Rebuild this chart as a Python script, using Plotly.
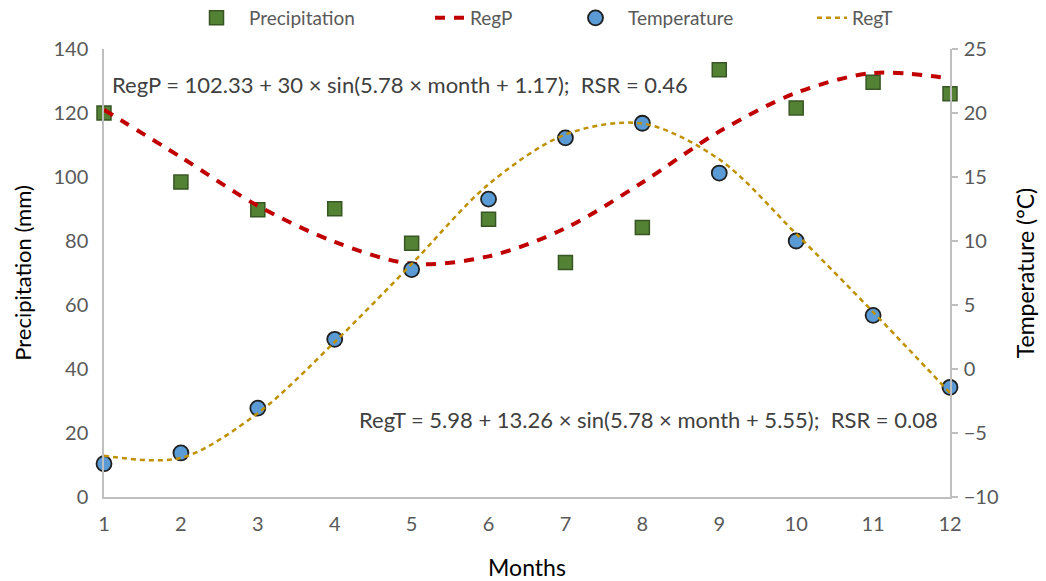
import plotly.graph_objects as go

months = [1, 2, 3, 4, 5, 6, 7, 8, 9, 10, 11, 12]
precip = [120.0, 98.4, 89.8, 90.1, 79.3, 86.8, 73.3, 84.2, 133.5, 121.6, 129.6, 126.0]
temp = [-7.4, -6.56, -3.06, 2.32, 7.77, 13.27, 18.06, 19.2, 15.31, 10.0, 4.19, -1.43]
reg_p = [121.0, 106.2, 91.0, 79.7, 72.9, 75.2, 84.0, 98.3, 114.2, 126.3, 132.5, 130.8]
reg_t = [-6.77, -6.95, -3.45, 2.11, 8.2, 14.43, 18.32, 19.18, 16.38, 10.56, 4.45, -1.87]

left_ticks = [0, 20, 40, 60, 80, 100, 120, 140]
right_ticks = [-10, -5, 0, 5, 10, 15, 20, 25]

eq_p = "RegP = 102.33 + 30 × sin(5.78 × month + 1.17);  RSR = 0.46"
eq_t = "RegT = 5.98 + 13.26 × sin(5.78 × month + 5.55);  RSR = 0.08"

FONT = "Lato, Roboto, sans-serif"
GREY = "#595959"
AX = "#bfbfbf"

# plot area on screen: x 104..950, y 49..497 (body margin removed below)
L, T = 104, 49
PW, PH = 846, 448

fig = go.Figure()
fig.add_trace(go.Scatter(
    x=months, y=precip, mode="markers", name="Precipitation", legend="legend", cliponaxis=False,
    marker=dict(symbol="square", size=14, color="#548235", line=dict(color="#375623", width=1.5))))
fig.add_trace(go.Scatter(
    x=months, y=reg_p, mode="lines", name="RegP", legend="legend2",
    line=dict(color="#C00000", width=4, dash="10px,9px", shape="spline", smoothing=0.9)))
fig.add_trace(go.Scatter(
    x=months, y=temp, mode="markers", name="Temperature", yaxis="y2", legend="legend3", cliponaxis=False,
    marker=dict(symbol="circle", size=15, color="#5B9BD5", line=dict(color="#1f1f1f", width=1.8))))
fig.add_trace(go.Scatter(
    x=months, y=reg_t, mode="lines", name="RegT", yaxis="y2", legend="legend4",
    line=dict(color="#BF9000", width=2.5, dash="5px,4px", shape="spline", smoothing=0.9)))

def leg(xpix, itemwidth=30):
    return dict(orientation="h", x=(xpix - L) / PW, y=(T - 18) / PH + 1, xanchor="left", yanchor="middle",
                font=dict(family=FONT, size=19, color=GREY), bgcolor="rgba(0,0,0,0)",
                borderwidth=0, itemwidth=itemwidth)

fig.update_layout(
    width=1046, height=581,
    margin=dict(l=L, r=1046 - L - PW, t=T, b=581 - T - PH, autoexpand=False),
    paper_bgcolor="white", plot_bgcolor="white",
    font=dict(family=FONT, color=GREY),
    showlegend=True,
    xaxis=dict(range=[1, 12], tickvals=months, showgrid=False, zeroline=False, automargin=False,
               showline=True, linecolor=AX, linewidth=1.5, ticks="", ticklabelstandoff=8,
               tickfont=dict(size=20, color=GREY),
               title=dict(text="Months", font=dict(size=23, color="#000000"), standoff=26)),
    yaxis=dict(range=[0, 140], tickvals=left_ticks, showgrid=False, zeroline=False, automargin=False,
               showline=True, linecolor=AX, linewidth=1.5, ticks="", ticklabelstandoff=10,
               tickfont=dict(size=20, color=GREY),
               title=dict(text="Precipitation (mm)", font=dict(size=22, color="#000000"), standoff=16)),
    yaxis2=dict(range=[-10, 25], tickvals=right_ticks, overlaying="y", side="right", automargin=False,
                showgrid=False, zeroline=False, showline=True, linecolor=AX, linewidth=1.5,
                ticks="outside", ticklen=6, tickcolor=AX, tickwidth=1.5, ticklabelstandoff=2,
                tickfont=dict(size=20, color=GREY),
                title=dict(text="Temperature (°C)", font=dict(size=23, color="#000000"), standoff=20)),
    legend=leg(184, 55), legend2=leg(430), legend3=leg(563, 55), legend4=leg(812),
    annotations=[
        dict(text=eq_p, xref="paper", yref="paper", x=(110 - L) / PW, y=(497 - 84) / PH,
             xanchor="left", yanchor="middle", showarrow=False,
             font=dict(family=FONT, size=22, color="#404040")),
        dict(text=eq_t, xref="paper", yref="paper", x=(940 - L) / PW, y=(497 - 419) / PH,
             xanchor="right", yanchor="middle", showarrow=False,
             font=dict(family=FONT, size=22, color="#404040")),
    ],
)

fig.write_html("out.html", config={"displayModeBar": False},
               post_script="document.body.style.margin='0';")
